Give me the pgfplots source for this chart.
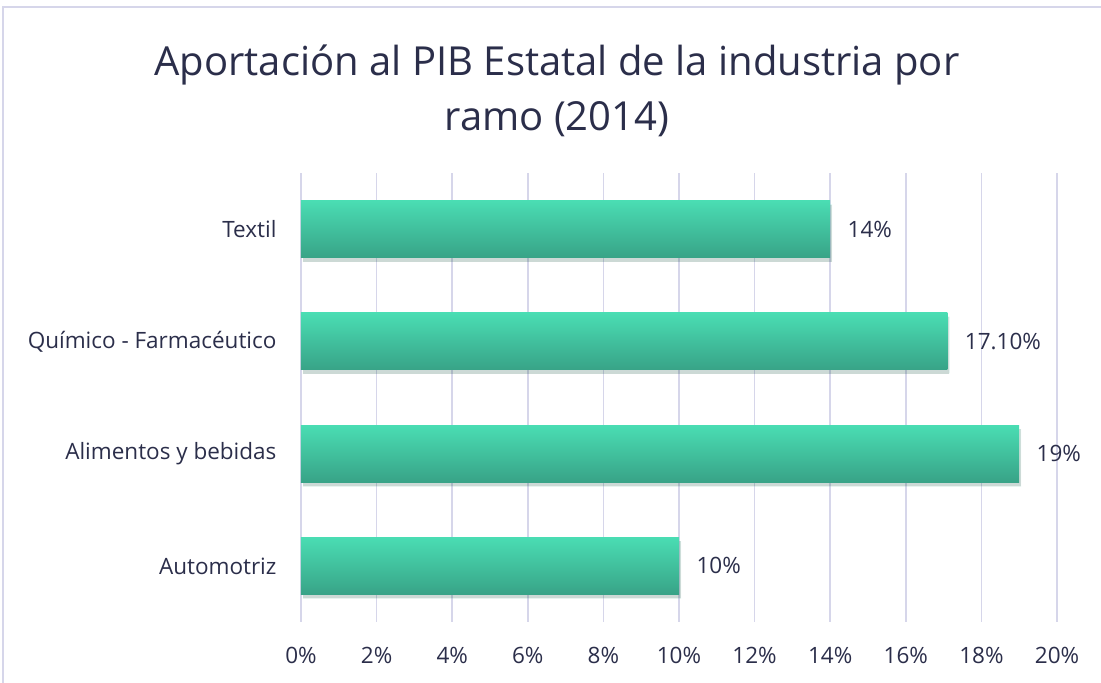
\documentclass[border=0pt]{standalone}
\usepackage{pgfplots}
\pgfplotsset{compat=1.18}
\usepackage{fontspec}
\setmainfont{Open Sans}
\usetikzlibrary{shadows}
\definecolor{txt}{HTML}{2B2E4A}
\definecolor{grd}{HTML}{D6D6EA}
\definecolor{bartop}{HTML}{4ADDB3}
\definecolor{barbot}{HTML}{38A387}
\begin{document}
\begin{tikzpicture}[x=1pt,y=1pt]
\useasboundingbox (0,0) rectangle (1101,683);
\draw[grd, line width=1.2pt] (3,0) -- (3,676) -- (1101,676);
\node[txt, font=\fontsize{40}{55}\selectfont, align=center] at (557,592) {Aportación al PIB Estatal de la industria por\\ramo (2014)};
\begin{axis}[
  at={(301pt,61pt)}, anchor=south west,
  scale only axis, width=756pt, height=449pt,
  xbar, bar width=57pt, bar shift=0pt,
  xmin=0, xmax=20, ymin=-0.5, ymax=3.5,
  xtick={0,2,...,20},
  xticklabel={\pgfmathprintnumber{\tick}\%},
  ytick={0,1,2,3},
  yticklabels={Automotriz, Alimentos y bebidas, Químico - Farmacéutico, Textil},
  axis line style={draw=none},
  major tick length=0pt,
  xmajorgrids, grid style={grd, line width=1.5pt},
  ymajorgrids=false,
  /pgf/number format/assume math mode=true,
  ticklabel style={txt, font=\fontsize{22.5}{26}\selectfont},
  xticklabel style={yshift=-22pt},
  yticklabel style={xshift=-21pt},
  nodes near coords,
  point meta=explicit symbolic,
  every node near coord/.append style={txt, font=\fontsize{22.5}{26}\selectfont, anchor=west, xshift=14pt},
  clip=false,
  barstyle/.style={draw=none, top color=bartop, bottom color=barbot,
    drop shadow={shadow xshift=2pt, shadow yshift=-4pt, opacity=0.12, fill=black}},
]
\addplot[barstyle] coordinates {(10,0) [10\%]};
\addplot[barstyle] coordinates {(19,1) [19\%]};
\addplot[barstyle] coordinates {(17.1,2) [17.10\%]};
\addplot[barstyle] coordinates {(14,3) [14\%]};
\end{axis}
\end{tikzpicture}
\end{document}
